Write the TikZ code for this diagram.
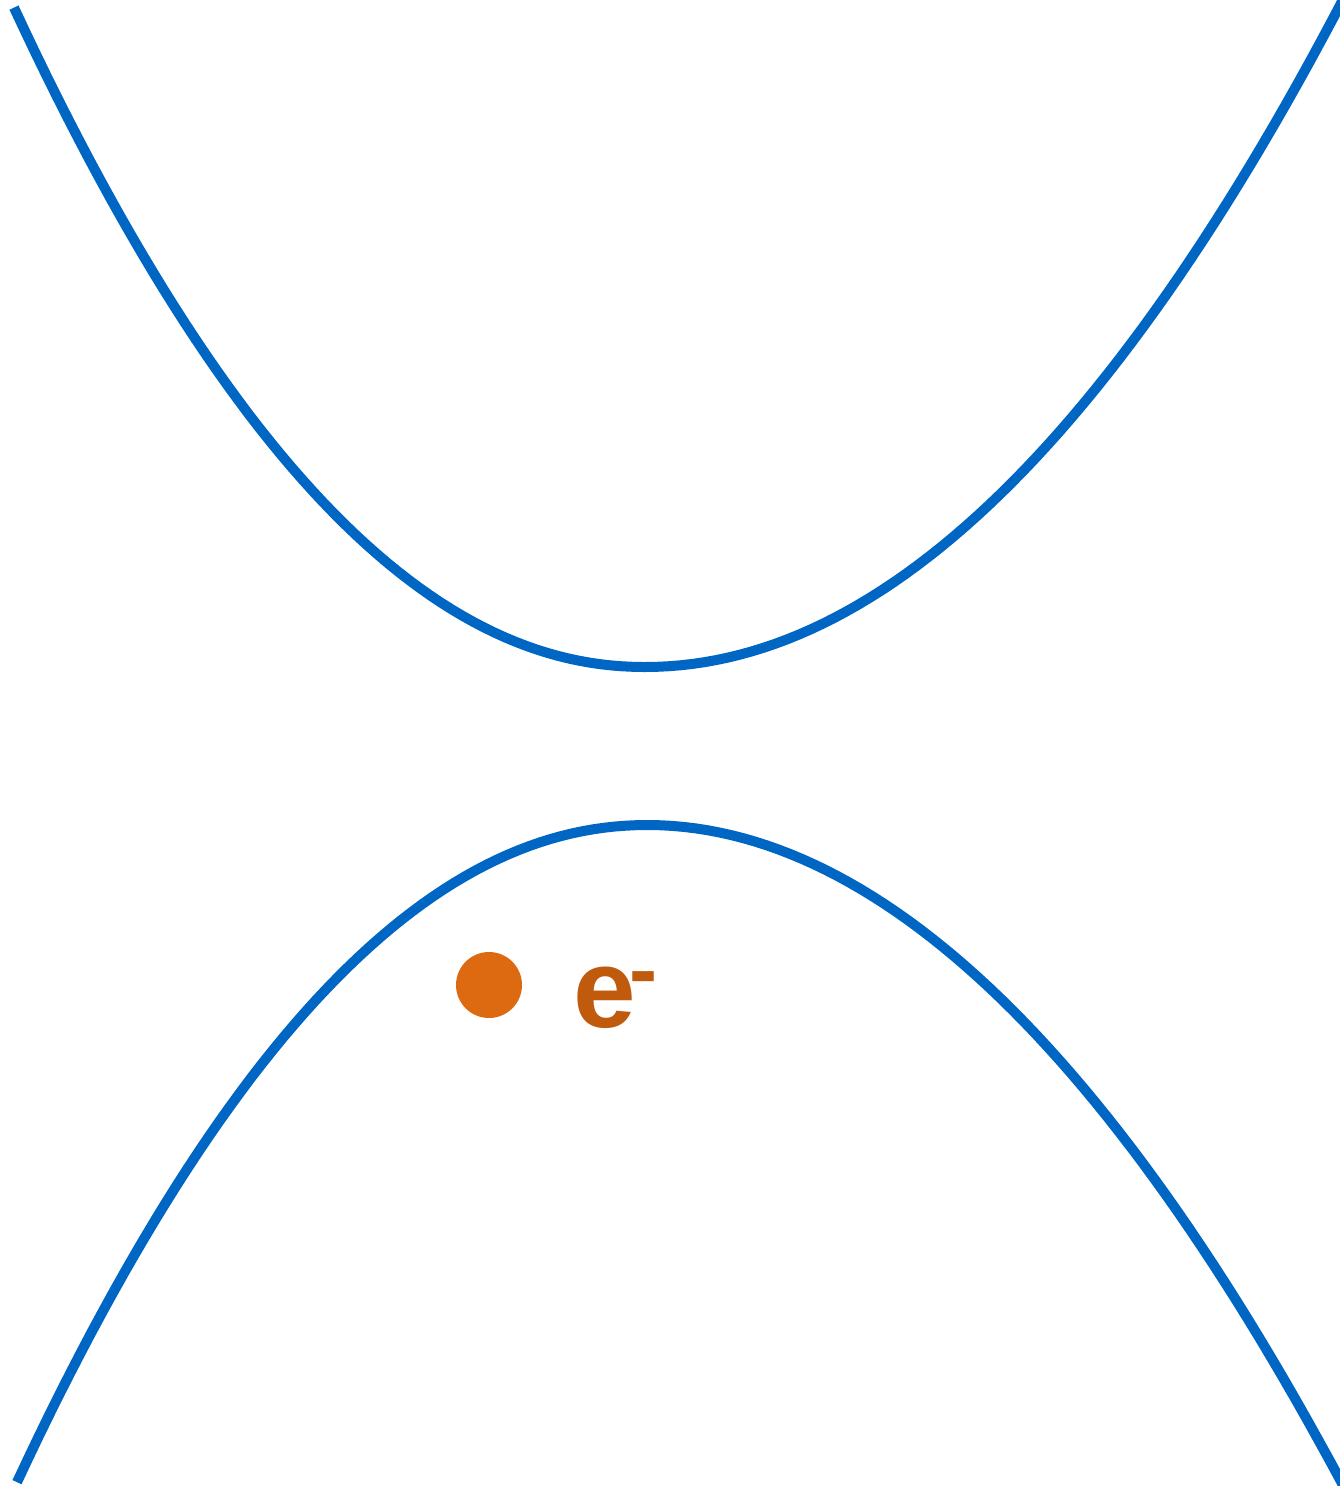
\documentclass[tikz,border=0pt]{standalone}
\usepackage{fontspec}
\setmainfont{Liberation Sans}
\usepackage{tikz}
\usetikzlibrary{positioning}

\definecolor{bandblue}{RGB}{0,102,196}
\definecolor{dotorange}{RGB}{221,106,16}
\definecolor{labelorange}{RGB}{192,90,12}

\begin{document}
\begin{tikzpicture}[
  band/.style={draw=bandblue, line width=0.1cm},
  electron/.style={circle, fill=dotorange, minimum size=0.66cm, inner sep=0pt},
  elabel/.style={font=\fontsize{32}{36}\selectfont\bfseries, text=labelorange, inner sep=0pt},
]
\useasboundingbox (0,0) rectangle (13.40,-14.86);

%% Conduction band
\draw[band] plot[domain=6.31:0.01, samples=60] ({6.45-\x}, {-6.67+0.1483*pow(\x,2.06)})
  -- plot[domain=0:7.0, samples=60] ({6.45+\x}, {-6.67+0.137*\x*\x});

%% Valence band
\draw[band] plot[domain=6.31:0.01, samples=60] ({6.48-\x}, {-8.25-0.1478*pow(\x,2.06)})
  -- plot[domain=0.01:6.95, samples=60] ({6.48+\x}, {-8.25-0.1449*pow(\x,1.97)});

%% Electron
\node[electron] (e1) at (4.89,-9.85) {};
\node[elabel, anchor=base west] (e1lab) at (5.73,-10.27) {e\kern-2pt\raisebox{8pt}{\fontsize{24}{24}\selectfont -}};

\end{tikzpicture}
\end{document}
